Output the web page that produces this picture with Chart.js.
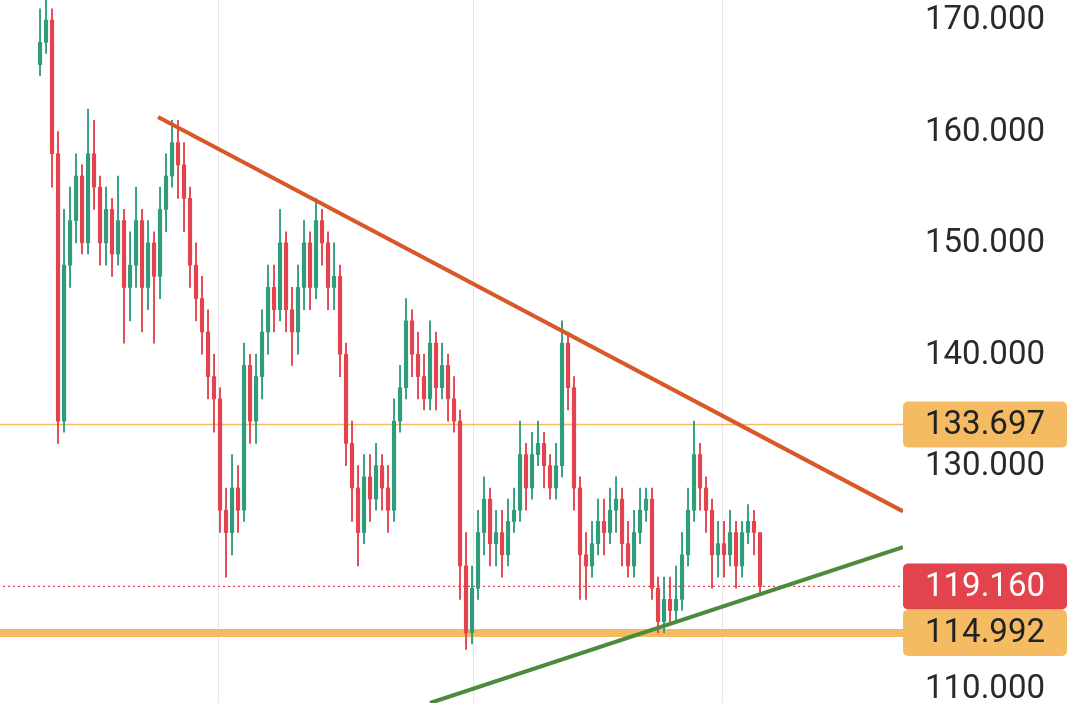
<!DOCTYPE html>
<html><head><meta charset="utf-8">
<script src="https://cdn.jsdelivr.net/npm/chart.js@4.4.1/dist/chart.umd.min.js"></script>
<style>html,body{margin:0;padding:0;background:#fff}#w{width:1080px;height:703px}</style>
</head><body><div id="w"><canvas id="c"></canvas></div>
<script>
const firstOpen = 166;
const closes = [168,170,158,134,148,152,156,150,158,155,150,153,149,152,146,148,152,146,150,147,153,156,159,157,154,148,145,142,138,136,126,124,128,126,139,134,138,142,146,144,150,144,142,146,150,146,152,150,146,147,140,132,128,124,129,127,130,128,126,134,137,143,140,138,136,141,137,139,136,134,121,115,119,124,127,123,124,122,125,126,131,128,131,132,130,128,130,141,137,128,122,121,123,125,124,126,127,123,121,124,126,127,119,116,118,117,118,122,126,131,128,126,122,123,122,124,121,124,125,124,119.16];
const highs = [171,172,171,160,153,155,158,157,162,161,156,155,154,156,153,151,155,153,152,151,155,158,161,161,159,155,150,147,144,140,137,128,131,130,141,140,140,144,148,148,153,151,146,148,152,151,154,153,151,150,148,141,134,130,131,131,132,131,130,136,139,145,144,142,140,143,142,141,140,138,135,124,121,126,129,128,126,126,127,128,134,132,133,134,133,131,132,143,142,138,129,124,125,127,127,128,129,128,125,126,128,128,128,120,120,120,121,124,128,134,132,129,127,125,125,126,125,125,126.5,126,122];
const lows = [165,167,155,132,133,146,150,149,149,153,148,148,147,148,141,143,146,142,144,141,145,151,155,154,151,146,143,140,136,133,124,120,122,124,125,132,132,136,140,142,143,142,139,140,144,144,145,148,144,144,138,130,125,121,123,125,126,126,124,125,133,136,138,136,135,135,135,136,134,133,118,113.5,114,118,122,121,121,120,121,124,125,126,127,130,128,127,127,129,135,126,118,118,120,122,122,123,124,121,120,120,123,125,118,115,115,116,116,117,121,125,126,124,119,120,120,121,119,120,123,122,118.5];
const resistLine = [[19.67,161.3],[143.83,125.9]];
const supportLine = [[65,108.7],[143.83,122.7]];
const levels = {upper:133.697, last:119.16, lower:114.992};
const yTicks = [110,120,130,140,150,160,170];
const xGrid = [29.67,72.17,113.67];

const UP='#2f9c7c', DN='#e2434c';
const opens = closes.map((c,i)=> i===0 ? firstOpen : closes[i-1]);
const bodies = closes.map((c,i)=>({x:i,y:[opens[i],c]}));
const wicks = closes.map((c,i)=>({x:i,y:[lows[i],highs[i]]}));
const cols = closes.map((c,i)=> c>=opens[i]?UP:DN);
const hline=(v)=>[{x:-7,y:v},{x:144,y:v}];

const labels = {
  id:'labels',
  afterDraw(ch){
    const {ctx} = ch, y=ch.scales.y;
    ctx.save();
    ctx.font='33px Roboto';ctx.textBaseline='middle';ctx.textAlign='left';
    ctx.fillStyle='#2a2a2a';
    yTicks.forEach(v=>{ if(v!==120) ctx.fillText(v.toFixed(3),925,y.getPixelForValue(v)+1); });
    const box=(v,bg,fg)=>{
      const p=y.getPixelForValue(v);
      ctx.fillStyle=bg;
      ctx.beginPath();ctx.roundRect(903,p-23,164,46,5);ctx.fill();
      ctx.fillStyle=fg;
      ctx.fillText(v.toFixed(3),925,p+1);
    };
    box(levels.upper,'#f5bb63','#222');
    box(levels.last,'#e2434c','#fff');
    box(levels.lower,'#f5bb63','#222');
    ctx.restore();
  }
};

new Chart(document.getElementById('c'),{
  type:'bar',
  data:{datasets:[
    {type:'line',data:hline(levels.upper),borderColor:'#f5bb63',borderWidth:1.5,pointRadius:0,order:5},
    {type:'line',data:hline(levels.lower),borderColor:'#f5bb63',borderWidth:8,pointRadius:0,order:5},
    {type:'line',data:hline(levels.last),borderColor:'#e2434c',borderWidth:1.2,borderDash:[2,3],pointRadius:0,order:5},
    {data:wicks,backgroundColor:cols,barThickness:1.2,grouped:false,order:3},
    {data:bodies,backgroundColor:cols,barThickness:3.5,grouped:false,order:2,minBarLength:1},
    {type:'line',data:resistLine.map(p=>({x:p[0],y:p[1]})),borderColor:'#d9582a',borderWidth:4,pointRadius:0,order:1},
    {type:'line',data:supportLine.map(p=>({x:p[0],y:p[1]})),borderColor:'#4e8a3c',borderWidth:4,pointRadius:0,order:1}
  ]},
  options:{
    responsive:true,maintainAspectRatio:false,animation:false,
    layout:{padding:0},
    plugins:{legend:{display:false},tooltip:{enabled:false}},
    scales:{
      x:{type:'linear',min:-6.67,max:143.83,offset:false,
        afterBuildTicks(s){s.ticks=xGrid.map(v=>({value:v}));},
        ticks:{display:false},grid:{color:'#e6e6e6',drawTicks:false,offset:false},border:{display:false},
        afterFit(s){s.height=0;}},
      y:{position:'right',min:108.7,max:171.8,
        ticks:{display:false},
        grid:{display:false},border:{display:false},
        afterFit(s){s.width=177;}}
    }
  },
  plugins:[labels]
});
</script></body></html>
